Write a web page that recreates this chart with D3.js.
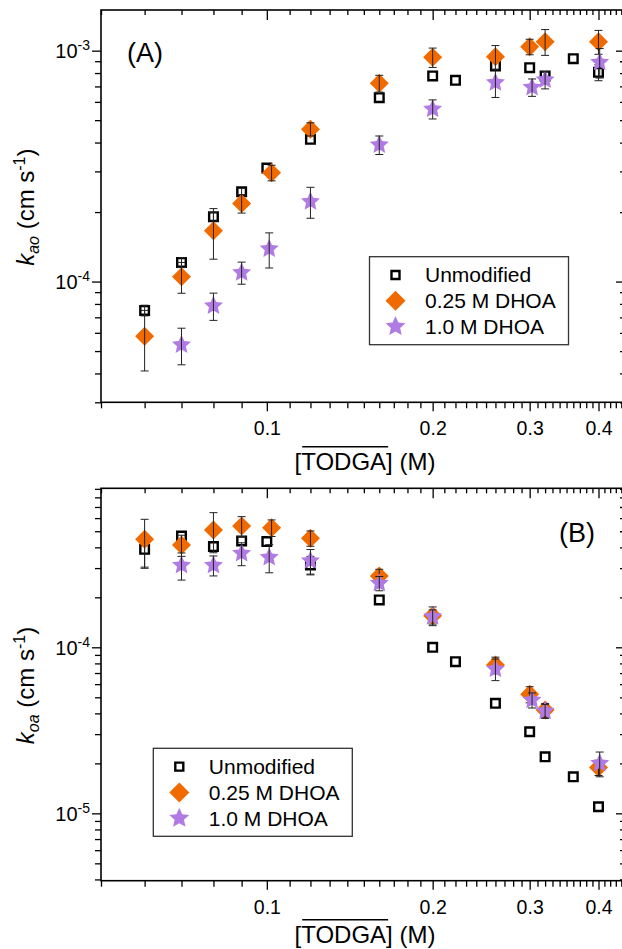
<!DOCTYPE html>
<html>
<head>
<meta charset="utf-8">
<script src="https://cdn.jsdelivr.net/npm/d3@7"></script>
<style>
  body { margin: 0; background: #fff; }
  svg { display: block; font-family: "Liberation Sans", Arial, sans-serif; }
</style>
</head>
<body>
<script>
// [TODGA] (M) for each series
var xUnmod  = [0.06, 0.07, 0.08, 0.09, 0.1, 0.12, 0.16, 0.2, 0.22, 0.26, 0.3, 0.32, 0.36, 0.4];
var xDhoa25 = [0.06, 0.07, 0.08, 0.09, 0.102, 0.12, 0.16, 0.2, 0.26, 0.3, 0.32, 0.4];
var xDhoa10 = [0.07, 0.08, 0.09, 0.101, 0.12, 0.16, 0.2, 0.26, 0.303, 0.32, 0.402];

// panel A : k_ao (cm/s)
var kaoUnmod     = [7.5e-5, 1.21e-4, 1.91e-4, 2.45e-4, 3.10e-4, 4.13e-4, 6.26e-4, 7.77e-4, 7.44e-4, 8.59e-4, 8.44e-4, 7.77e-4, 9.23e-4, 8.06e-4];
var kaoUnmodErr  = [4e-6, 6e-6, 8e-6, 8e-6, 0, 0, 0, 0, 0, 0, 0, 0, 0, 6.5e-5];
var kaoDhoa25    = [5.8e-5, 1.05e-4, 1.66e-4, 2.18e-4, 2.96e-4, 4.57e-4, 7.22e-4, 9.36e-4, 9.42e-4, 1.04e-3, 1.094e-3, 1.094e-3];
var kaoDhoa25Err = [1.7e-5, 1.6e-5, 4.1e-5, 2e-5, 2.3e-5, 3e-5, 6e-5, 9e-5, 1.1e-4, 8e-5, 1.4e-4, 1.3e-4];
var kaoDhoa10    = [5.32e-5, 7.85e-5, 1.094e-4, 1.385e-4, 2.22e-4, 3.91e-4, 5.59e-4, 7.27e-4, 6.94e-4, 7.47e-4, 8.91e-4];
var kaoDhoa10Err = [9.6e-6, 1.06e-5, 1.2e-5, 2.4e-5, 3.4e-5, 3.6e-5, 5.3e-5, 1.0e-4, 6e-5, 6.4e-5, 1.3e-4];

// panel B : k_oa (cm/s)
var koaUnmod     = [3.89e-4, 4.68e-4, 4.04e-4, 4.37e-4, 4.33e-4, 3.13e-4, 1.93e-4, 1.0e-4, 8.19e-5, 4.60e-5, 3.10e-5, 2.19e-5, 1.66e-5, 1.096e-5];
var koaUnmodErr  = [9e-5, 0, 0, 0, 0, 4e-5, 0, 0, 0, 0, 0, 0, 0, 0];
var koaDhoa25    = [4.47e-4, 4.13e-4, 5.09e-4, 5.38e-4, 5.25e-4, 4.54e-4, 2.69e-4, 1.55e-4, 7.82e-5, 5.21e-5, 4.19e-5, 1.89e-5];
var koaDhoa25Err = [1.43e-4, 6e-5, 1.38e-4, 7.4e-5, 6e-5, 4.8e-5, 2.6e-5, 2e-5, 9e-6, 5.8e-6, 4e-6, 2e-6];
var koaDhoa10    = [3.12e-4, 3.12e-4, 3.68e-4, 3.48e-4, 3.32e-4, 2.43e-4, 1.53e-4, 7.40e-5, 4.81e-5, 4.13e-5, 2.0e-5];
var koaDhoa10Err = [5.8e-5, 4.3e-5, 5.8e-5, 6.7e-5, 5.6e-5, 2.4e-5, 1.5e-5, 1.1e-5, 5e-6, 4e-6, 3.4e-6];

var seriesNames = ["Unmodified", "0.25 M DHOA", "1.0 M DHOA"];
var xMajor = [0.1, 0.2, 0.3, 0.4];

var orange = "#f06a00", purple = "#b07be2";

var svg = d3.select("body").append("svg")
    .attr("width", 622)
    .attr("height", 949);

var x = d3.scaleLog().domain([0.05, 0.445]).range([101, 624]);
var xMinor = d3.range(5, 45).map(i => i / 100);

// custom diamond (square turned 45 deg)
var diamond = {
    draw: function (ctx, size) {
        var r = Math.sqrt(size / 2);
        ctx.moveTo(0, -r); ctx.lineTo(r, 0); ctx.lineTo(0, r); ctx.lineTo(-r, 0); ctx.closePath();
    }
};
// fatter five point star, size = outer radius squared
var star = {
    draw: function (ctx, size) {
        var R = Math.sqrt(size), r = R * 0.47;
        for (var i = 0; i < 10; i++) {
            var a = -Math.PI / 2 + i * Math.PI / 5, rr = i % 2 ? r : R;
            if (i == 0) ctx.moveTo(rr * Math.cos(a), rr * Math.sin(a));
            else ctx.lineTo(rr * Math.cos(a), rr * Math.sin(a));
        }
        ctx.closePath();
    }
};

function logMinor(dom) {
    var out = [];
    for (var k = Math.floor(Math.log10(dom[0])); k <= Math.ceil(Math.log10(dom[1])); k++)
        for (var m = 1; m < 10; m++) {
            var v = m * Math.pow(10, k);
            if (v >= dom[0] && v <= dom[1]) out.push(v);
        }
    return out;
}

function drawMarks(g, y, xs, ys, errs, kind) {
    var sym;
    if (kind == 0) sym = d3.symbol(d3.symbolSquare, 74);
    else if (kind == 1) sym = d3.symbol(diamond, 180);
    else sym = d3.symbol(star, 100);

    var pts = xs.map((d, i) => ({ x: d, y: ys[i], e: errs[i] }));

    g.selectAll(null).data(pts).enter().append("path")
        .attr("transform", d => "translate(" + x(d.x) + "," + y(d.y) + ")")
        .attr("d", sym)
        .attr("fill", kind == 0 ? "none" : (kind == 1 ? orange : purple))
        .attr("stroke", kind == 0 ? "#000" : "none")
        .attr("stroke-width", 2.4);

    var eb = g.selectAll(null).data(pts.filter(d => d.e > 0)).enter().append("g")
        .attr("stroke", "#222").attr("stroke-width", 1);
    eb.append("line")
        .attr("x1", d => x(d.x)).attr("x2", d => x(d.x))
        .attr("y1", d => y(Math.max(d.y - d.e, y.domain()[0]))).attr("y2", d => y(d.y + d.e));
    eb.append("line")
        .attr("x1", d => x(d.x) - 4).attr("x2", d => x(d.x) + 4)
        .attr("y1", d => y(d.y + d.e)).attr("y2", d => y(d.y + d.e));
    eb.append("line")
        .attr("x1", d => x(d.x) - 4).attr("x2", d => x(d.x) + 4)
        .attr("y1", d => y(d.y - d.e)).attr("y2", d => y(d.y - d.e))
        .attr("display", d => d.y - d.e > y.domain()[0] ? null : "none");
}

function drawPanel(p) {
    var y = d3.scaleLog().domain(p.yDomain).range([p.bottom, p.top]);
    var g = svg.append("g");

    // ticks
    function tickAxis(axis, tr) {
        var a = g.append("g").attr("transform", tr).call(axis);
        a.select(".domain").remove();
        a.selectAll("line").attr("stroke", "#000").attr("stroke-width", 1.3);
        return a;
    }
    var majorVals = xMajor;
    var minorX = xMinor.filter(v => majorVals.indexOf(v) < 0);
    tickAxis(d3.axisBottom(x).tickValues(minorX).tickSize(6).tickFormat(""), "translate(0," + p.bottom + ")");
    var xb = tickAxis(d3.axisBottom(x).tickValues(majorVals).tickSize(9).tickFormat(""), "translate(0," + p.bottom + ")");
    xb.selectAll(".tick").append("text")
        .attr("y", 33).attr("text-anchor", "middle")
        .attr("font-size", 19.5).attr("fill", "#000")
        .text(d => d3.format(".1f")(d));
    tickAxis(d3.axisBottom(x).tickValues(minorX).tickSize(5).tickFormat(""), "translate(0," + p.top + ")");
    tickAxis(d3.axisBottom(x).tickValues(majorVals).tickSize(10).tickFormat(""), "translate(0," + p.top + ")");

    var yMinor = logMinor(p.yDomain).filter(v => p.yMajor.indexOf(v) < 0);
    tickAxis(d3.axisLeft(y).tickValues(yMinor).tickSize(6).tickFormat(""), "translate(101,0)");
    var yl = tickAxis(d3.axisLeft(y).tickValues(p.yMajor).tickSize(9).tickFormat(""), "translate(101,0)");
    var lab = yl.selectAll(".tick").append("text")
        .attr("x", -11).attr("y", 7).attr("text-anchor", "end")
        .attr("font-size", 20).attr("fill", "#000");
    lab.append("tspan").text("10");
    lab.append("tspan").attr("font-size", 14).attr("dy", -8)
        .text(d => "-" + Math.round(-Math.log10(d)));
    tickAxis(d3.axisRight(y).tickValues(yMinor).tickSize(-4).tickFormat(""), "translate(624,0)");
    tickAxis(d3.axisRight(y).tickValues(p.yMajor).tickSize(-8).tickFormat(""), "translate(624,0)");

    // frame
    g.append("rect")
        .attr("x", 101).attr("y", p.top)
        .attr("width", 624 - 101).attr("height", p.bottom - p.top)
        .attr("fill", "none").attr("stroke", "#000").attr("stroke-width", 1.6);

    // data: squares, then diamonds, then stars
    drawMarks(g, y, xUnmod, p.unmod, p.unmodErr, 0);
    drawMarks(g, y, xDhoa25, p.d25, p.d25Err, 1);
    drawMarks(g, y, xDhoa10, p.d10, p.d10Err, 2);

    // panel letter
    g.append("text").attr("x", p.letterX).attr("y", p.letterY)
        .attr("font-size", 27).text(p.letter);

    // y title
    var yt = g.append("text")
        .attr("transform", "translate(34," + ((p.top + p.bottom) / 2 + p.yTitleShift) + ") rotate(-90)")
        .attr("text-anchor", "middle").attr("font-size", 24);
    yt.append("tspan").attr("font-style", "italic").text("k");
    yt.append("tspan").attr("font-style", "italic").attr("font-size", 16).attr("dy", 5).text(p.sub);
    yt.append("tspan").attr("dy", -5).text(" (cm s");
    yt.append("tspan").attr("font-size", 16).attr("dy", -9).text("-1");
    yt.append("tspan").attr("dy", 9).text(")");

    // x title with bar over TODGA
    var xt = g.append("text")
        .attr("x", 365).attr("y", p.titleY)
        .attr("text-anchor", "middle").attr("font-size", 24)
        .text("[TODGA] (M)");
    var n = xt.node();
    var a = n.getExtentOfChar(1), b = n.getExtentOfChar(5);
    g.append("line")
        .attr("x1", a.x + 1).attr("x2", b.x + b.width + 2)
        .attr("y1", p.titleY - 23.3).attr("y2", p.titleY - 23.3)
        .attr("stroke", "#000").attr("stroke-width", 1.5);

    // legend
    var lg = g.append("g").attr("transform", "translate(" + p.legX + "," + p.legY + ")");
    lg.append("rect").attr("width", 199).attr("height", 88)
        .attr("fill", "#fff").attr("stroke", "#333").attr("stroke-width", 1.3);
    var syms = [d3.symbol(d3.symbolSquare, 64), d3.symbol(diamond, 200), d3.symbol(star, 110)];
    var fills = ["none", orange, purple];
    seriesNames.forEach(function (name, i) {
        var ry = 18.3 + i * 25.8;
        lg.append("path").attr("transform", "translate(26," + ry + ")")
            .attr("d", syms[i]).attr("fill", fills[i])
            .attr("stroke", i == 0 ? "#000" : "none").attr("stroke-width", 2.4);
        lg.append("text").attr("x", 55.5).attr("y", ry + 7.5)
            .attr("font-size", 21).text(name);
    });
}

drawPanel({
    top: 10, bottom: 402.3, yDomain: [3e-5, 1.5e-3], yMajor: [1e-3, 1e-4],
    unmod: kaoUnmod, unmodErr: kaoUnmodErr, d25: kaoDhoa25, d25Err: kaoDhoa25Err,
    d10: kaoDhoa10, d10Err: kaoDhoa10Err,
    letter: "(A)", letterX: 127, letterY: 62, sub: "ao", yTitleShift: 1,
    legX: 369.5, legY: 256.7, titleY: 470
});

drawPanel({
    top: 488.3, bottom: 880.7, yDomain: [3.93e-6, 9.07e-4], yMajor: [1e-4, 1e-5],
    unmod: koaUnmod, unmodErr: koaUnmodErr, d25: koaDhoa25, d25Err: koaDhoa25Err,
    d10: koaDhoa10, d10Err: koaDhoa10Err,
    letter: "(B)", letterX: 559, letterY: 542, sub: "oa", yTitleShift: 1,
    legX: 153.3, legY: 748.3, titleY: 943
});
</script>
</body>
</html>
